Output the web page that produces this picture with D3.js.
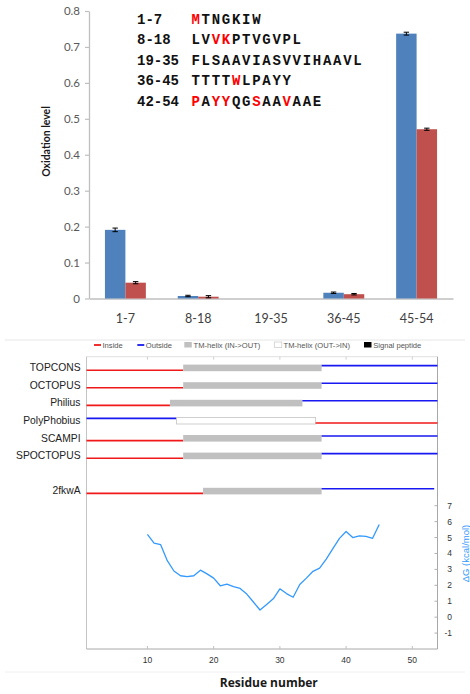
<!DOCTYPE html>
<html>
<head>
<meta charset="utf-8">
<script src="https://cdn.jsdelivr.net/npm/d3@7"></script>
<style>
  html, body { margin: 0; padding: 0; background: #fff; }
  svg { display: block; }
</style>
</head>
<body>
<svg id="chart" width="470" height="694"></svg>
<script>
// ---------- Oxidation levels per peptide segment ----------
const segments = ["1-7", "8-18", "19-35", "36-45", "45-54"];
const seriesKeys = ["s1", "s2"];
const seriesColors = ["#4f81bd", "#c0504d"];
const s1Values = [0.191, 0.007, 0, 0.016, 0.737];
const s1Errors = [0.005, 0.002, 0, 0.002, 0.004];
const s2Values = [0.044, 0.005, 0, 0.012, 0.471];
const s2Errors = [0.003, 0.003, 0, 0.002, 0.003];
const oxTicks = [0, 0.1, 0.2, 0.3, 0.4, 0.5, 0.6, 0.7, 0.8];

// ---------- Peptide sequences (oxidized residues highlighted) ----------
const peptideRanges = ["1-7", "8-18", "19-35", "36-45", "42-54"];
const peptideSeqs = ["MTNGKIW", "LVVKPTVGVPL", "FLSAAVIASVVIHAAVL", "TTTTWLPAYY", "PAYYQGSAAVAAE"];
const peptideMarked = [[0], [2, 3], [], [4], [0, 2, 3, 6, 9]];

// ---------- Topology predictions ----------
const methods = ["TOPCONS", "OCTOPUS", "Philius", "PolyPhobius", "SCAMPI", "SPOCTOPUS", "", "2fkwA"];
// each entry: [kind, start residue, end residue]
const topTOPCONS   = [["in", 0.8, 15.4], ["tmIO", 15.4, 36.3], ["out", 36.3, 53.8]];
const topOCTOPUS   = [["in", 0.8, 15.4], ["tmIO", 15.4, 36.3], ["out", 36.3, 53.8]];
const topPhilius   = [["in", 0.8, 13.4], ["tmIO", 13.4, 33.4], ["out", 33.4, 53.8]];
const topPolyPhob  = [["out", 0.8, 14.4], ["tmOI", 14.4, 35.4], ["in", 35.4, 53.8]];
const topSCAMPI    = [["in", 0.8, 15.4], ["tmIO", 15.4, 36.3], ["out", 36.3, 53.8]];
const topSPOCTOPUS = [["in", 0.8, 15.4], ["tmIO", 15.4, 36.3], ["out", 36.3, 53.8]];
const top2fkwA     = [["in", 0.8, 18.4], ["tmIO", 18.4, 36.3], ["out", 36.3, 53.3]];
const legendLabels = ["Inside", "Outside", "TM-helix (IN->OUT)", "TM-helix (OUT->IN)", "Signal peptide"];
const legendKinds  = ["in", "out", "tmIO", "tmOI", "sp"];

// ---------- Free energy profile ----------
const dgResidues = [10, 11, 12, 13, 14, 15, 16, 17, 18, 19, 20, 21, 22, 23, 24, 25, 26, 27,
                    28, 29, 30, 31, 32, 33, 34, 35, 36, 37, 38, 39, 40, 41, 42, 43, 44, 45];
const dgValues = [5.2, 4.65, 4.55, 3.55, 2.9, 2.6, 2.55, 2.6, 2.95, 2.72, 2.45, 1.97, 2.08, 1.92,
                  1.8, 1.45, 0.95, 0.45, 0.8, 1.15, 1.78, 1.48, 1.25, 2.05, 2.45, 2.88, 3.08, 3.65,
                  4.3, 4.95, 5.38, 5.0, 5.1, 5.07, 4.95, 5.82];
const residueTicks = [10, 20, 30, 40, 50];
const dgTicks = [-1, 0, 1, 2, 3, 4, 5, 6, 7];

const svg = d3.select("#chart");

// ===================== Bar chart =====================
const x0 = d3.scaleBand().domain(segments).range([89, 453]).paddingInner(0.438).paddingOuter(0.219);
const x1 = d3.scaleBand().domain(seriesKeys).range([0, x0.bandwidth()]);
const y = d3.scaleLinear().domain([0, 0.8]).range([298.5, 11]);

const yAxis = svg.append("g").attr("transform", "translate(89,0)")
  .call(d3.axisLeft(y).tickValues(oxTicks).tickSize(4).tickSizeOuter(0).tickPadding(5)
    .tickFormat(d => d === 0 ? "0" : d3.format(".1f")(d)));
yAxis.select(".domain").attr("stroke", "#bfbfbf").attr("stroke-width", 1.3);
yAxis.selectAll(".tick line").attr("stroke", "#bfbfbf").attr("stroke-width", 1.2);
yAxis.selectAll(".tick text").attr("fill", "#595959").attr("font-family", "Lato, sans-serif").attr("font-size", 11.5);

const xAxis = svg.append("g").attr("transform", "translate(0,298.5)")
  .call(d3.axisBottom(x0).tickSize(0).tickPadding(16));
xAxis.select(".domain").attr("stroke", "#bfbfbf").attr("stroke-width", 1.3);
xAxis.selectAll(".tick text").attr("fill", "#404040").attr("font-family", "Lato, sans-serif").attr("font-size", 12.5);

svg.append("text")
  .attr("transform", "translate(50,141.5) rotate(-90)")
  .attr("text-anchor", "middle")
  .attr("font-family", "Lato, sans-serif").attr("font-weight", "bold").attr("font-size", 10.5)
  .attr("fill", "#1a1a1a")
  .text("Oxidation level");

const barRows = segments.map((s, i) => ({
  seg: s,
  vals: [
    { key: "s1", v: s1Values[i], e: s1Errors[i], color: seriesColors[0] },
    { key: "s2", v: s2Values[i], e: s2Errors[i], color: seriesColors[1] }
  ]
}));

const groups = svg.append("g").selectAll("g").data(barRows).join("g")
  .attr("transform", d => `translate(${x0(d.seg)},0)`);

groups.selectAll("rect").data(d => d.vals).join("rect")
  .attr("x", d => x1(d.key)).attr("width", x1.bandwidth())
  .attr("y", d => y(d.v)).attr("height", d => y(0) - y(d.v))
  .attr("fill", d => d.color);

const eb = groups.selectAll("g.err").data(d => d.vals.filter(v => v.e > 0)).join("g").attr("class", "err")
  .attr("stroke", "#000").attr("stroke-width", 1);
eb.append("line")
  .attr("x1", d => x1(d.key) + x1.bandwidth() / 2).attr("x2", d => x1(d.key) + x1.bandwidth() / 2)
  .attr("y1", d => y(d.v + d.e)).attr("y2", d => y(Math.max(0, d.v - d.e)));
eb.append("line")
  .attr("x1", d => x1(d.key) + x1.bandwidth() / 2 - 2.7).attr("x2", d => x1(d.key) + x1.bandwidth() / 2 + 2.7)
  .attr("y1", d => y(d.v + d.e)).attr("y2", d => y(d.v + d.e));
eb.append("line")
  .attr("x1", d => x1(d.key) + x1.bandwidth() / 2 - 2.7).attr("x2", d => x1(d.key) + x1.bandwidth() / 2 + 2.7)
  .attr("y1", d => y(Math.max(0, d.v - d.e))).attr("y2", d => y(Math.max(0, d.v - d.e)));

// peptide sequence listing
const seqRow = d3.scalePoint().domain(peptideRanges).range([23.5, 105.5]);
const seqG = svg.append("g").attr("font-family", "'Liberation Mono', monospace").attr("font-weight", "bold")
  .attr("font-size", 14);
peptideRanges.forEach((r, i) => {
  seqG.append("text").attr("x", 137).attr("y", seqRow(r)).attr("fill", "#111").text(r);
  const t = seqG.append("text").attr("x", 191.5).attr("y", seqRow(r)).attr("letter-spacing", 1.7);
  peptideSeqs[i].split("").forEach((ch, k) => {
    t.append("tspan").attr("fill", peptideMarked[i].includes(k) ? "#ff0000" : "#111").text(ch);
  });
});

// ===================== Topology panel =====================
svg.append("line").attr("x1", 5).attr("x2", 465).attr("y1", 340).attr("y2", 340)
  .attr("stroke", "#e6e6e6").attr("stroke-width", 1);
svg.append("line").attr("x1", 5).attr("x2", 465).attr("y1", 672).attr("y2", 672)
  .attr("stroke", "#f0f0f0").attr("stroke-width", 1);

const kindColor = { in: "#f01818", out: "#1818f0" };
const xr = d3.scaleLinear().domain([0.8, 53.8]).range([86.5, 437.5]);
const yr = d3.scaleLinear().domain([-2, 7]).range([649, 505.7]);
const rowY = d3.scalePoint().domain(methods).range([365.6, 488.8]);

// legend
const legX = [94, 137.3, 184.3, 274.3, 364];
const leg = svg.append("g").attr("font-family", "'Liberation Sans', Arial, sans-serif").attr("font-size", 7.6)
  .attr("fill", "#555");
legendKinds.forEach((k, i) => {
  if (k === "in" || k === "out") {
    leg.append("line").attr("x1", legX[i]).attr("x2", legX[i] + 7).attr("y1", 345).attr("y2", 345)
      .attr("stroke", kindColor[k]).attr("stroke-width", 1.8);
    leg.append("text").attr("x", legX[i] + 8.5).attr("y", 347.8).text(legendLabels[i]);
  } else {
    leg.append("rect").attr("x", legX[i]).attr("y", 342).attr("width", 7.5).attr("height", 5.5)
      .attr("fill", k === "tmIO" ? "#c0c0c0" : k === "sp" ? "#000" : "#fff")
      .attr("stroke", k === "tmOI" ? "#c8c8c8" : "none").attr("stroke-width", 0.7);
    leg.append("text").attr("x", legX[i] + 9.2).attr("y", 347.8).text(legendLabels[i]);
  }
});

// frame and ticks
const frame = svg.append("g").attr("stroke", "#c4c4c4").attr("stroke-width", 1).attr("fill", "none");
frame.append("line").attr("x1", xr(0.8)).attr("x2", xr(53.8)).attr("y1", 356.7).attr("y2", 356.7).attr("stroke", "#e0e0e0");
frame.append("line").attr("x1", xr(0.8)).attr("x2", xr(0.8)).attr("y1", 356.7).attr("y2", 649);
frame.append("line").attr("x1", xr(53.8)).attr("x2", xr(53.8)).attr("y1", 356.7).attr("y2", 649).attr("stroke", "#a8a8a8");
frame.append("line").attr("x1", xr(0.8)).attr("x2", xr(53.8)).attr("y1", 649).attr("y2", 649).attr("stroke", "#a8a8a8");
residueTicks.forEach(t => {
  frame.append("line").attr("x1", xr(t)).attr("x2", xr(t)).attr("y1", 356.7).attr("y2", 359.7).attr("stroke", "#d0d0d0");
  frame.append("line").attr("x1", xr(t)).attr("x2", xr(t)).attr("y1", 649).attr("y2", 646).attr("stroke", "#c0c0c0");
});
dgTicks.forEach(t => {
  frame.append("line").attr("x1", xr(53.8)).attr("x2", xr(53.8) - 3).attr("y1", yr(t)).attr("y2", yr(t)).attr("stroke", "#b0b0b0");
});

const axisFont = "'Liberation Sans', Arial, sans-serif";
svg.append("g").selectAll("text").data(residueTicks).join("text")
  .attr("x", d => xr(d)).attr("y", 663).attr("text-anchor", "middle")
  .attr("font-family", axisFont).attr("font-size", 8.5).attr("fill", "#333")
  .text(d => d);
svg.append("g").selectAll("text").data(dgTicks).join("text")
  .attr("x", 452).attr("y", d => yr(d) + 3).attr("text-anchor", "end")
  .attr("font-family", axisFont).attr("font-size", 8.5).attr("fill", "#333")
  .text(d => d);

svg.append("text")
  .attr("transform", "translate(469,553.5) rotate(-90)")
  .attr("text-anchor", "middle")
  .attr("font-family", axisFont).attr("font-size", 9.5).attr("fill", "#3399ff")
  .text("\u0394G (kcal/mol)");

svg.append("text").attr("x", 268.8).attr("y", 687).attr("text-anchor", "middle")
  .attr("font-family", "'Open Sans', sans-serif").attr("font-weight", "bold").attr("font-size", 12)
  .attr("fill", "#1a1a1a").text("Residue number");

// method rows
const topology = {
  "TOPCONS": topTOPCONS, "OCTOPUS": topOCTOPUS, "Philius": topPhilius, "PolyPhobius": topPolyPhob,
  "SCAMPI": topSCAMPI, "SPOCTOPUS": topSPOCTOPUS, "2fkwA": top2fkwA
};
const rows = svg.append("g");
methods.filter(m => m !== "").forEach(m => {
  const r = rowY(m);
  rows.append("text").attr("x", 80.5).attr("y", r + 5.5).attr("text-anchor", "end")
    .attr("font-family", axisFont).attr("font-size", 10.3).attr("fill", "#222").text(m);
  topology[m].forEach(([kind, a, b]) => {
    if (kind === "in" || kind === "out") {
      const ly = kind === "out" ? r : r + 4.6;
      rows.append("line").attr("x1", xr(a)).attr("x2", xr(b)).attr("y1", ly).attr("y2", ly)
        .attr("stroke", kindColor[kind]).attr("stroke-width", 1.6);
    } else {
      rows.append("rect").attr("x", xr(a)).attr("y", r - 1).attr("width", xr(b) - xr(a)).attr("height", 6.6)
        .attr("fill", kind === "tmIO" ? "#c0c0c0" : "#fff")
        .attr("stroke", kind === "tmOI" ? "#c4c4c4" : "none").attr("stroke-width", 0.8);
    }
  });
});

// free energy curve
const dgPoints = dgResidues.map((r, i) => [r, dgValues[i]]);
svg.append("path").datum(dgPoints)
  .attr("d", d3.line().x(d => xr(d[0])).y(d => yr(d[1])))
  .attr("fill", "none").attr("stroke", "#3399ff").attr("stroke-width", 1.3).attr("stroke-linejoin", "round");
</script>
</body>
</html>
